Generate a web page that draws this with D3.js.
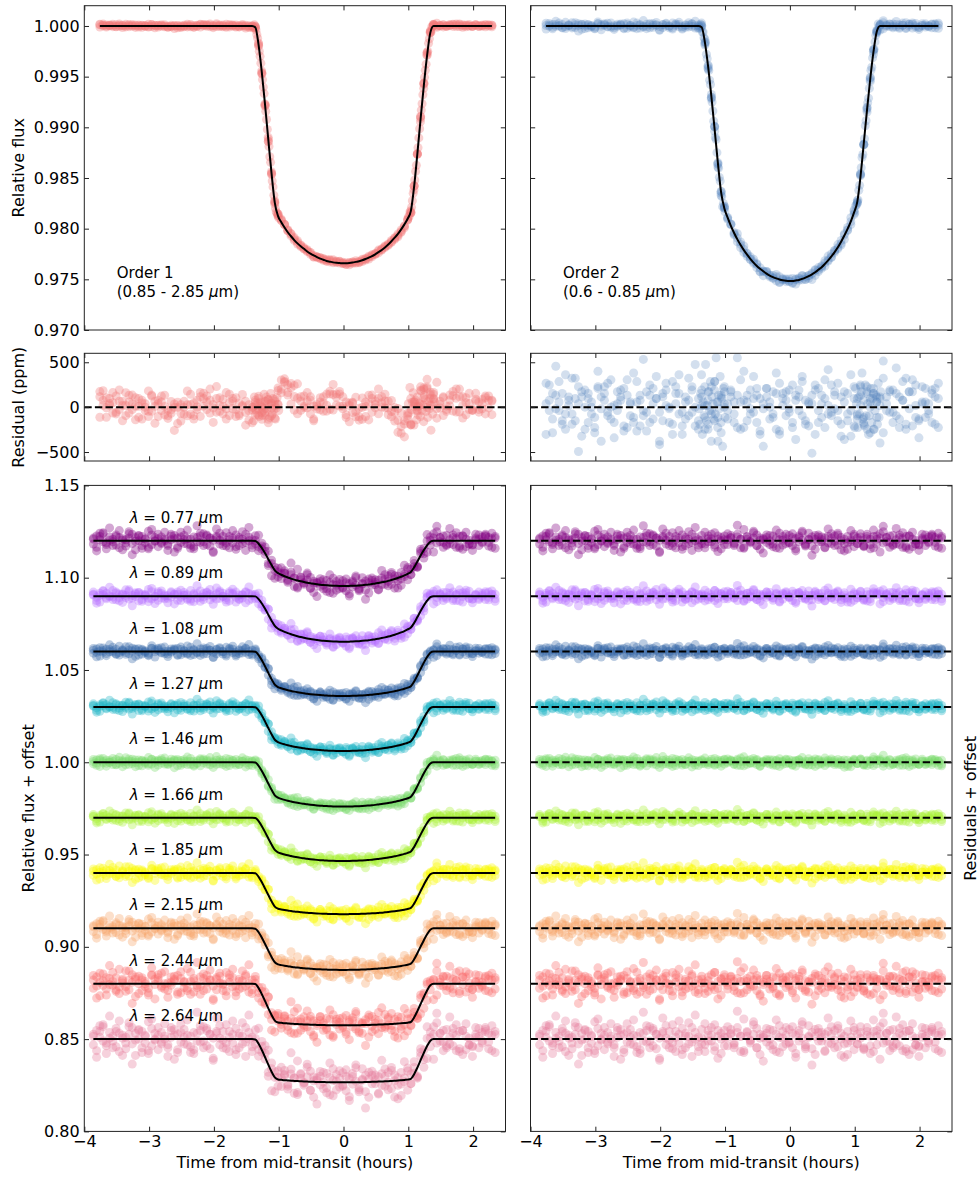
<!DOCTYPE html>
<html>
<head>
<meta charset="utf-8">
<script src="https://cdn.jsdelivr.net/npm/d3@7"></script>
<style>
body { margin: 0; background: #fff; }
svg { font-family: "DejaVu Sans", sans-serif; }
.tick text { font-size: 16px; font-family: "DejaVu Sans", sans-serif; fill: #000; }
.tick line { stroke: #222; }
</style>
</head>
<body>
<svg id="fig" width="978" height="1180"></svg>
<script>
// ---- data ----
// exposure times (hours from mid-transit)
var times = [-3.86,-3.81,-3.76,-3.71,-3.66,-3.61,-3.56,-3.51,-3.46,-3.41,
  -3.36,-3.31,-3.26,-3.21,-3.16,-3.11,-3.06,-3.01,-2.96,-2.91,
  -2.86,-2.81,-2.76,-2.71,-2.66,-2.61,-2.56,-2.51,-2.46,-2.41,
  -2.36,-2.31,-2.26,-2.21,-2.16,-2.11,-2.06,-2.01,-1.96,-1.91,
  -1.86,-1.81,-1.76,-1.71,-1.66,-1.61,-1.56,-1.51,-1.46,-1.41,
  -1.36,-1.31,-1.26,-1.21,-1.16,-1.11,-1.06,-1.01,-0.96,-0.91,
  -0.86,-0.81,-0.76,-0.71,-0.66,-0.61,-0.56,-0.51,-0.46,-0.41,
  -0.36,-0.31,-0.26,-0.21,-0.16,-0.11,-0.06,-0.01,0.04,0.09,
  0.14,0.19,0.24,0.29,0.34,0.39,0.44,0.49,0.54,0.59,
  0.64,0.69,0.74,0.79,0.84,0.89,0.94,0.99,1.04,1.09,
  1.14,1.19,1.24,1.29,1.34,1.39,1.44,1.49,1.54,1.59,
  1.64,1.69,1.74,1.79,1.84,1.89,1.94,1.99,2.04,2.09,
  2.14,2.19,2.24,2.29,2.34];
var IN_FIRST = 50; // first in-transit exposure (t = -1.36 h)

// transit profiles (fraction of central depth), exposures 50..104
var shapeRound = [.005,.065,.161,.278,.407,.538,.654,
  .716,.752,.784,.812,.837,.859,.879,.897,.913,.928,.941,.952,.962,.971,.979,.985,.990,.994,.997,.999,
  1.000,1.000,.998,.996,.992,.987,.981,.974,.966,.956,.946,.933,.919,.904,.887,.868,.846,.822,.796,.766,.731,
  .689,.588,.459,.328,.206,.100,.022];
var shapeMid = [.006,.081,.197,.334,.480,.622,.745,
  .801,.827,.849,.869,.886,.902,.916,.928,.939,.950,.959,.967,.974,.980,.985,.990,.993,.996,.998,.999,
  1.000,1.000,.999,.997,.994,.991,.987,.982,.976,.970,.962,.953,.944,.933,.921,.907,.892,.876,.857,.836,.812,
  .779,.676,.538,.391,.250,.124,.028];
var shapeSemi = [.007,.094,.225,.377,.536,.689,.816,
  .868,.885,.900,.913,.924,.935,.944,.952,.960,.966,.972,.978,.983,.987,.990,.993,.996,.997,.999,1.000,
  1.000,1.000,.999,.998,.996,.994,.991,.988,.984,.980,.975,.969,.963,.955,.947,.938,.928,.917,.905,.891,.875,
  .849,.744,.598,.440,.284,.143,.033];
var shapeFlat = [.008,.106,.253,.420,.592,.754,.887,
  .934,.942,.950,.956,.962,.967,.972,.976,.980,.983,.986,.989,.991,.993,.995,.997,.998,.999,.999,1.000,
  1.000,1.000,1.000,.999,.998,.997,.996,.994,.992,.990,.987,.984,.981,.978,.974,.969,.964,.959,.952,.945,.938,
  .921,.812,.659,.488,.318,.161,.037];

// extra white-light exposures across ingress / egress (|t| in hours)
var edgeAbsT = [1.40,1.3875,1.375,1.3625,1.35,1.3375,1.325,1.3125,1.30,1.2875,1.275,1.2625,1.25,1.2375,
  1.225,1.2125,1.20,1.1875,1.175,1.1625,1.15,1.1375,1.125,1.1125,1.10,1.0875,1.075,1.0625,1.05,1.0375,
  1.025,1.0125,1.00];
var edgeMid = [0,0,0,.004,.016,.033,.053,.076,.102,.130,.159,.190,.222,.256,
  .291,.326,.362,.399,.435,.472,.509,.546,.581,.616,.650,.682,.712,.739,.763,.783,
  .793,.800,.807];
var edgeRound = [0,0,0,.003,.012,.026,.042,.061,.082,.105,.129,.155,.182,.211,
  .241,.271,.303,.335,.368,.401,.434,.467,.499,.531,.563,.593,.622,.649,.673,.692,
  .704,.714,.724];

// residual patterns (units of the scatter), three samples per exposure
var n0 = [0.3,-1.2,0.8,1.5,-0.4,0.1,-0.9,1.1,0.6,-1.7,
  0.2,1.3,-0.5,-0.1,0.9,-1.4,0.4,1.8,-0.7,0.0,
  -1.1,0.7,0.3,-0.6,1.2,-2.1,0.5,-0.3,1.0,0.4,
  -0.8,-1.5,0.6,1.4,-0.2,0.9,-1.0,0.1,2.2,-0.6,
  0.8,-0.4,-1.3,0.5,1.1,-0.9,0.3,-1.8,0.7,0.2,
  -0.5,1.6,-0.2,0.4,-1.2,0.9,0.0,-0.7,1.3,0.5,
  -0.6,1.2,0.3,-1.4,0.8,-0.2,1.5,-0.9,0.1,0.4,
  -0.3,1.0,-1.1,0.5,0.2,-0.8,1.2,-0.4,0.6,-1.5,
  0.9,0.1,-0.6,1.4,-1.0,0.3,0.7,-0.2,-1.3,0.8,
  0.5,-0.9,1.1,0.0,-0.5,-1.6,0.2,0.9,-0.5,1.3,
  -1.1,0.4,-0.7,2.0,0.9,1.3,-0.4,0.6,-1.2,-0.7,
  0.2,1.1,-1.2,0.8,-1.6,0.3,-0.6,-0.8,0.5,-0.9,
  0.7,1.2,-0.3,0.4,-1.4];
var n1 = [-0.6,0.9,1.4,-0.2,-1.5,0.7,0.3,-0.8,1.9,0.1,
  -1.0,0.5,1.2,-1.7,0.0,0.8,-0.4,-1.2,1.1,0.6,
  0.4,-0.3,1.6,-0.9,0.2,1.0,-1.4,0.7,-0.5,2.0,
  0.3,-1.1,-0.2,0.9,1.3,-0.7,0.5,-2.0,0.8,0.1,
  -0.9,1.5,0.2,-0.4,-1.1,0.6,1.7,-0.3,0.0,-1.3,
  1.0,-0.6,0.4,1.2,-0.8,0.3,-1.5,0.9,0.2,0.6,
  -0.9,0.7,-1.3,2.1,0.3,-0.4,0.5,1.1,-1.6,0.2,
  0.6,-0.7,0.9,-1.3,1.4,0.1,-0.5,1.0,-0.9,0.4,
  -0.2,1.8,-1.0,0.3,0.7,-1.6,1.1,0.2,0.5,-0.4,
  1.3,-0.1,-0.8,0.6,-1.9,0.8,-0.2,1.2,-0.5,0.7,
  -1.0,0.8,0.3,-1.3,-0.6,0.5,2.7,-0.2,0.9,-0.9,
  -0.5,0.6,1.5,-1.0,0.9,-1.1,0.1,-0.7,1.2,0.3,
  -0.4,1.0,0.6,-1.2,0.8];
var n2 = [1.1,-0.3,-1.6,0.4,0.8,-0.1,1.5,-1.0,-0.4,0.6,
  1.7,-0.8,0.2,0.9,-1.3,0.5,0.0,-0.6,1.2,-2.0,
  0.8,1.4,-0.7,0.1,-0.2,0.6,1.1,-1.2,0.3,-0.9,
  1.5,0.4,-0.5,-1.4,0.7,0.2,1.8,-0.3,-0.8,1.0,
  0.0,-1.6,1.2,0.8,-0.3,-0.7,0.4,1.0,-1.1,0.5,
  0.6,0.1,-1.0,-0.4,1.5,-0.6,0.7,1.2,-0.2,0.9,
  0.3,-1.2,1.6,0.4,-0.8,1.0,-0.3,0.7,-1.4,-0.1,
  1.1,0.3,-0.4,0.8,-1.6,0.5,0.9,-0.1,-1.2,0.7,
  1.0,-0.5,0.4,-1.1,0.2,1.3,-0.9,-0.6,1.6,0.1,
  -0.3,0.7,-0.2,-1.0,0.9,-0.8,-1.7,0.5,-0.4,1.2,
  -0.6,-1.3,0.5,1.1,0.6,0.6,-1.5,0.2,1.0,-0.3,
  0.8,-1.2,0.4,1.7,-0.1,0.9,1.3,-0.8,0.3,-0.6,
  0.2,-0.9,1.1,0.5,-0.7];
var n3 = [0.5,-1.9,0.2,1.3,-0.7,2.4,-0.2,0.8,-1.3,0.4,
  -0.4,1.7,-2.6,0.6,1.0,-0.9,0.3,-1.5,2.1,-0.1,
  1.2,-0.5,0.0,-1.8,0.9,0.4,-1.1,1.6,0.2,-0.6,
  -1.4,0.7,2.8,-0.3,-0.9,1.1,0.5,-2.2,0.6,1.4,
  -0.1,-1.0,0.8,1.9,-1.6,0.3,-0.5,1.2,2.5,-0.8,
  0.1,-1.3,0.9,-0.2,1.5,-2.0,0.6,0.2,-0.7,1.0,
  -0.4,2.9,0.3,-1.2,0.7,-0.1,1.8,-0.9,0.5,-2.3,
  1.1,0.0,-0.6,2.0,-1.4,0.8,0.4,-0.3,1.3,-1.9,
  0.6,1.5,-0.8,0.2,-2.7,1.0,-0.2,0.7,-1.2,2.2,
  -0.5,0.9,1.4,-1.7,0.3,-0.4,1.9,-1.1,0.5,0.1,
  -0.9,1.2,-1.5,0.8,0.3,-2.1,1.7,0.6,-0.3,1.0,
  2.3,-0.7,0.4,-1.3,0.9,1.6,-0.6,-1.8,0.2,1.1,
  -0.2,0.8,-1.0,1.4,0.5];
var noise = [n0, n1, n2, n3];

// slow residual structure of the order 1 white light curve (ppm)
var o1Trend = [20,30,40,40,30,30,20,20,10,10,
  0,10,20,20,10,0,0,10,20,10,
  0,-10,-20,-40,-50,-60,-50,-40,-30,-10,
  0,10,20,30,30,40,30,20,20,10,
  10,20,30,20,0,-10,-20,-30,-40,-50,
  -40,-30,-40,-50,-60,-40,20,100,180,230,
  220,150,90,60,40,30,20,10,0,-10,
  0,20,60,100,120,100,60,20,0,-20,
  -40,-60,-50,-30,-10,10,30,50,50,40,
  20,0,-30,-60,-100,-140,-170,-180,-150,-60,
  60,150,170,120,80,40,20,10,20,40,
  60,70,60,40,30,20,30,40,40,30,
  20,10,20,30,20];

// white light curves
var orderNames = ["Order 1", "Order 2"];
var orderRanges = ["(0.85 - 2.85 ", "(0.6 - 0.85 "];
var orderDepths = [0.02342, 0.02516];
var orderShapes = [shapeMid, shapeRound];
var orderEdges = [edgeMid, edgeRound];
var orderScatterPpm = [95, 190];
var orderColors = ["#f07878", "#4f7fbb"];
var orderAlpha = [0.35, 0.25];
var orderPick = [[0, 1, 2], [3, 2, 1]];

// spectroscopic light curves
var wavelengths = ["0.77", "0.89", "1.08", "1.27", "1.46", "1.66", "1.85", "2.15", "2.44", "2.64"];
var offsets = [1.12, 1.09, 1.06, 1.03, 1.00, 0.97, 0.94, 0.91, 0.88, 0.85];
var depths = [0.0245, 0.0247, 0.0241, 0.0239, 0.0240, 0.0235, 0.0223, 0.0225, 0.0225, 0.0234];
var specShapes = [shapeRound, shapeRound, shapeMid, shapeMid, shapeMid, shapeMid, shapeSemi, shapeSemi, shapeFlat, shapeFlat];
var specScatter = [0.0029, 0.0020, 0.0015, 0.0015, 0.0014, 0.0015, 0.0020, 0.0028, 0.0041, 0.0052];
var specColors = ["#800080", "#b46cff", "#3a6aa8", "#1fb4c6", "#78db6a", "#a8f236", "#f8f800", "#f7a466", "#f86a6a", "#e57c9c"];
var specPick = [[1,3,0],[2,0,3],[3,1,2],[0,2,3],[1,0,2],[3,2,0],[2,3,1],[0,3,1],[1,2,3],[3,0,1]];

var xTicks = [-4, -3, -2, -1, 0, 1, 2];
var yTicksTop = [0.970, 0.975, 0.980, 0.985, 0.990, 0.995, 1.000];
var yTicksRes = [-500, 0, 500];
var yTicksSpec = [0.80, 0.85, 0.90, 0.95, 1.00, 1.05, 1.10, 1.15];

// ---- layout ----
var svg = d3.select("#fig");
var TICK = 4.7;
var xL = d3.scaleLinear().domain([-4, 2.5]).range([84.3, 505.5]);
var xR = d3.scaleLinear().domain([-4, 2.5]).range([530.5, 952]);
var yTop = d3.scaleLinear().domain([0.970, 1.002]).range([330, 5.7]);
var yRes = d3.scaleLinear().domain([-600, 600]).range([461, 353.3]);
var yBot = d3.scaleLinear().domain([0.80, 1.15]).range([1131.4, 485.4]);

var clipId = 0;
function panel(x, y) {
    var id = "clip" + (clipId++);
    svg.append("clipPath").attr("id", id).append("rect")
        .attr("x", x.range()[0]).attr("y", y.range()[1])
        .attr("width", x.range()[1] - x.range()[0])
        .attr("height", y.range()[0] - y.range()[1]);
    return svg.append("g").attr("clip-path", "url(#" + id + ")");
}

function frame(x, y, yTicks, yFmt, opt) {
    var g = svg.append("g");
    function put(axis, tx, ty, labels) {
        axis.tickSizeInner(-TICK).tickSizeOuter(0).tickPadding(TICK);
        if (!labels) axis.tickFormat("");
        var a = g.append("g").attr("transform", "translate(" + tx + "," + ty + ")").call(axis);
        a.select(".domain").remove();
    }
    put(d3.axisBottom(x).tickValues(xTicks).tickFormat(d3.format("d")), 0, y.range()[0], opt.xLabels);
    put(d3.axisTop(x).tickValues(xTicks), 0, y.range()[1], false);
    if (opt.left) put(d3.axisLeft(y).tickValues(yTicks).tickFormat(yFmt), x.range()[0], 0, opt.yLabels);
    put(d3.axisRight(y).tickValues(yTicks), x.range()[1], 0, false);
    g.append("rect")
        .attr("x", x.range()[0]).attr("y", y.range()[1])
        .attr("width", x.range()[1] - x.range()[0])
        .attr("height", y.range()[0] - y.range()[1])
        .attr("fill", "none").attr("stroke", "#222").attr("stroke-width", 1);
}

function dots(g, x, y, pts, color, alpha) {
    g.append("g").selectAll("circle").data(pts).join("circle")
        .attr("cx", function(d) { return x(d[0]); })
        .attr("cy", function(d) { return y(d[1]); })
        .attr("r", 4.5)
        .attr("fill", color)
        .attr("fill-opacity", alpha);
}

function modelLine(g, x, y, pts) {
    g.append("path").datum(pts)
        .attr("d", d3.line().x(function(d) { return x(d[0]); }).y(function(d) { return y(d[1]); }).curve(d3.curveMonotoneX))
        .attr("fill", "none").attr("stroke", "#000").attr("stroke-width", 2);
}

function zeroLine(g, x, y, v) {
    g.append("line")
        .attr("x1", x.range()[0]).attr("x2", x.range()[1])
        .attr("y1", y(v)).attr("y2", y(v))
        .attr("stroke", "#000").attr("stroke-width", 2).attr("stroke-dasharray", "7.4,3.2");
}

function profile(shape, k) {
    return (k >= IN_FIRST && k < IN_FIRST + shape.length) ? shape[k - IN_FIRST] : 0;
}

// ---- white light curves (top) ----
[0, 1].forEach(function(o) {
    var x = o === 0 ? xL : xR;
    var gTop = panel(x, yTop), gRes = panel(x, yRes);
    var model = [], flux = [], resid = [];
    for (var k = 2; k <= 123; k++) {
        var m = 1 - orderDepths[o] * profile(orderShapes[o], k);
        model.push([times[k], m]);
        orderPick[o].forEach(function(p) {
            var r = orderScatterPpm[o] * noise[p][k] + (o === 0 ? o1Trend[k] : 0);
            flux.push([times[k], m + r * 1e-6]);
            resid.push([times[k], r]);
        });
    }
    // denser sampling through ingress and egress
    edgeAbsT.forEach(function(a, j) {
        var m = 1 - orderDepths[o] * orderEdges[o][j];
        var rIn = orderScatterPpm[o] * noise[(o + 2) % 4][40 + j];
        var rOut = orderScatterPpm[o] * noise[(o + 3) % 4][80 + j];
        flux.push([-a, m + rIn * 1e-6], [a, m + rOut * 1e-6]);
        resid.push([-a, rIn], [a, rOut]);
    });
    dots(gTop, x, yTop, flux, orderColors[o], orderAlpha[o]);
    modelLine(gTop, x, yTop, model);
    dots(gRes, x, yRes, resid, orderColors[o], orderAlpha[o]);
    zeroLine(gRes, x, yRes, 0);

    var lab = svg.append("text").attr("font-size", 15).attr("fill", "#000");
    lab.append("tspan").attr("x", x(-3.5)).attr("y", yTop(0.97513)).text(orderNames[o]);
    var l2 = lab.append("tspan").attr("x", x(-3.5)).attr("y", yTop(0.97321));
    l2.append("tspan").text(orderRanges[o]);
    l2.append("tspan").attr("font-style", "italic").text("\u03bc");
    l2.append("tspan").text("m)");

    frame(x, yTop, yTicksTop, d3.format(".3f"), {left: true, yLabels: o === 0, xLabels: false});
    frame(x, yRes, yTicksRes, d3.format("d"), {left: true, yLabels: o === 0, xLabels: false});
});

// ---- spectroscopic light curves (bottom) ----
var gSpec = panel(xL, yBot), gSpecRes = panel(xR, yBot);
wavelengths.forEach(function(w, i) {
    var model = [], flux = [], resid = [];
    for (var k = 0; k < times.length; k++) {
        var m = offsets[i] - depths[i] * profile(specShapes[i], k);
        model.push([times[k], m]);
        specPick[i].forEach(function(p) {
            var r = specScatter[i] * noise[p][k];
            flux.push([times[k], m + r]);
            resid.push([times[k], offsets[i] + r]);
        });
    }
    dots(gSpec, xL, yBot, flux, specColors[i], 0.35);
    modelLine(gSpec, xL, yBot, model);
    dots(gSpecRes, xR, yBot, resid, specColors[i], 0.35);
    zeroLine(gSpecRes, xR, yBot, offsets[i]);
});
wavelengths.forEach(function(w, i) {
    var t = svg.append("text").attr("x", xL(-3.3)).attr("y", yBot(offsets[i] + 0.0097))
        .attr("font-size", 15).attr("fill", "#000");
    t.append("tspan").attr("font-style", "italic").text("\u03bb");
    t.append("tspan").text(" = " + w + " ");
    t.append("tspan").attr("font-style", "italic").text("\u03bc");
    t.append("tspan").text("m");
});
frame(xL, yBot, yTicksSpec, d3.format(".2f"), {left: true, yLabels: true, xLabels: true});
frame(xR, yBot, yTicksSpec, d3.format(".2f"), {left: false, yLabels: false, xLabels: true});

// ---- axis titles ----
function vlabel(x, y, s) {
    svg.append("text").attr("transform", "translate(" + x + "," + y + ") rotate(-90)")
        .attr("text-anchor", "middle").attr("font-size", 16).attr("fill", "#000").text(s);
}
vlabel(23.5, 167.8, "Relative flux");
vlabel(23.5, 407.2, "Residual (ppm)");
vlabel(33.5, 808.4, "Relative flux + offset");
vlabel(975.5, 808.4, "Residuals + offset");
[xL, xR].forEach(function(x) {
    svg.append("text").attr("x", (x.range()[0] + x.range()[1]) / 2).attr("y", 1168)
        .attr("text-anchor", "middle").attr("font-size", 16).attr("fill", "#000")
        .text("Time from mid-transit (hours)");
});
</script>
</body>
</html>
